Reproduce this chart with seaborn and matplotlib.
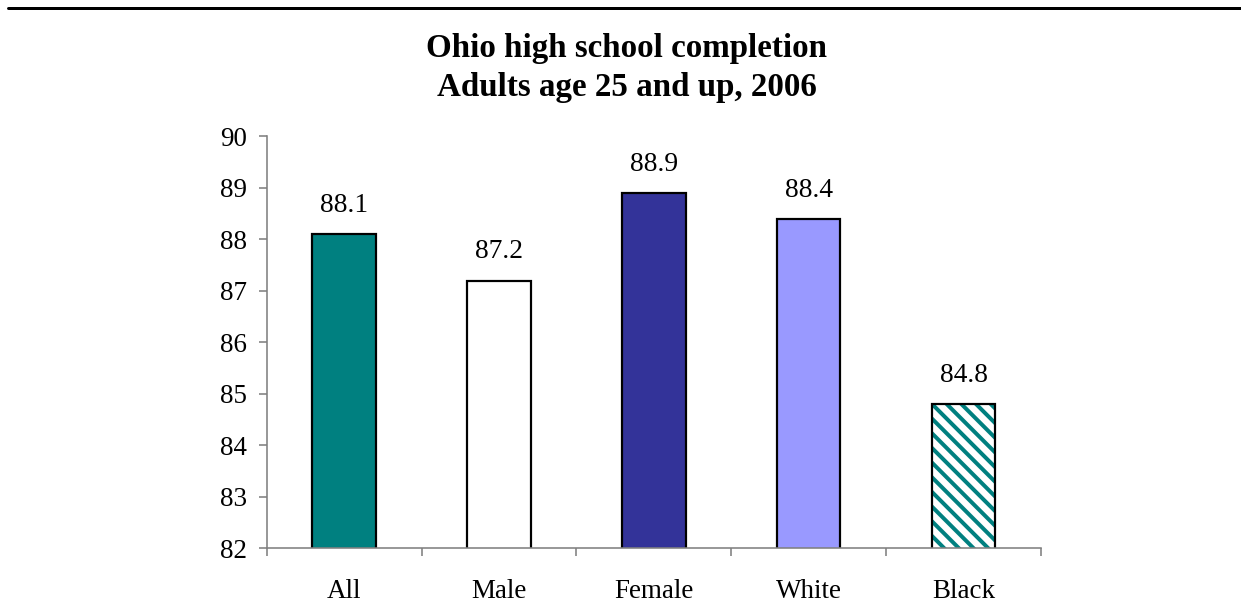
import matplotlib
matplotlib.use("Agg")
import matplotlib.pyplot as plt
import matplotlib.lines as mlines
from matplotlib.patches import Rectangle
import numpy as np
import pandas as pd
import seaborn as sns

# Data
groups = ["All", "Male", "Female", "White", "Black"]
completion = [88.1, 87.2, 88.9, 88.4, 84.8]
bar_colors = ["#008080", "#FFFFFF", "#333399", "#9999FF", "#FFFFFF"]
y_ticks = [82, 83, 84, 85, 86, 87, 88, 89, 90]
title_lines = ["Ohio high school completion", "Adults age 25 and up, 2006"]

DPI = 88
W, H = 1241, 604
TEAL = "#008080"


def pt(px):
    """Convert a pixel size to points at the figure resolution."""
    return px * 72.0 / DPI


sns.set_style("white")
plt.rcParams["font.family"] = ["Liberation Serif", "DejaVu Serif"]
plt.rcParams["hatch.linewidth"] = pt(4.0)

fig = plt.figure(figsize=(W / DPI, H / DPI), dpi=DPI)
fig.patch.set_facecolor("white")

left, right = 266.7, 1041.0
top, bottom = 136.3, 548.3
ax = fig.add_axes([left / W, (H - bottom) / H, (right - left) / W, (bottom - top) / H])

df = pd.DataFrame({"group": groups, "value": completion})
sns.barplot(
    data=df, x="group", y="value", hue="group", order=groups,
    palette=dict(zip(groups, bar_colors)), legend=False,
    width=0.41, edgecolor="black", linewidth=pt(2.2), ax=ax,
    saturation=1.0,
)

# Diagonal teal stripes on the last bar, outlined in black on top
striped = ax.patches[len(groups) - 1]
striped.set_hatch("\\\\")
striped.set_edgecolor(TEAL)
striped.set_linewidth(0)
ax.add_patch(Rectangle((striped.get_x(), striped.get_y()),
                       striped.get_width(), striped.get_height(),
                       fill=False, edgecolor="black", linewidth=pt(2.2),
                       zorder=striped.get_zorder() + 0.1))

ax.set_ylim(y_ticks[0], y_ticks[-1])
ax.set_xlim(-0.5, len(groups) - 0.5)
ax.set_yticks(y_ticks)
ax.set_xlabel("")
ax.set_ylabel("")

spine_color = "#808080"
for side in ("top", "right"):
    ax.spines[side].set_visible(False)
for side in ("left", "bottom"):
    ax.spines[side].set_color(spine_color)
    ax.spines[side].set_linewidth(pt(1.6))

ax.tick_params(axis="y", direction="out", length=pt(8), width=pt(1.6),
               color=spine_color, labelsize=pt(27), pad=pt(12),
               left=True, labelcolor="black")
ax.set_xticks(np.arange(-0.5, len(groups), 1.0), minor=True)
ax.tick_params(axis="x", which="minor", direction="out", length=pt(8),
               width=pt(1.6), color=spine_color, bottom=True)
ax.tick_params(axis="x", which="major", length=0, labelsize=pt(27),
               pad=pt(31), labelcolor="black")

# Value labels above the bars
for i, v in enumerate(completion):
    ax.annotate(f"{v:.1f}", xy=(i, v), xytext=(0, pt(16)),
                textcoords="offset points", ha="center", va="bottom",
                fontsize=pt(27.5), color="black")

# Two-line title
fig.text(627 / W, 1 - 57 / H, title_lines[0], ha="center", va="baseline",
         fontsize=pt(33), fontweight="bold", color="black")
fig.text(627 / W, 1 - 96 / H, title_lines[1], ha="center", va="baseline",
         fontsize=pt(33), fontweight="bold", color="black")

# Rule across the top of the page
fig.add_artist(mlines.Line2D([8 / W, 1.0], [1 - 7.5 / H, 1 - 7.5 / H],
                             transform=fig.transFigure, color="black",
                             linewidth=pt(3)))

fig.savefig("out.png", dpi=DPI, facecolor="white")
